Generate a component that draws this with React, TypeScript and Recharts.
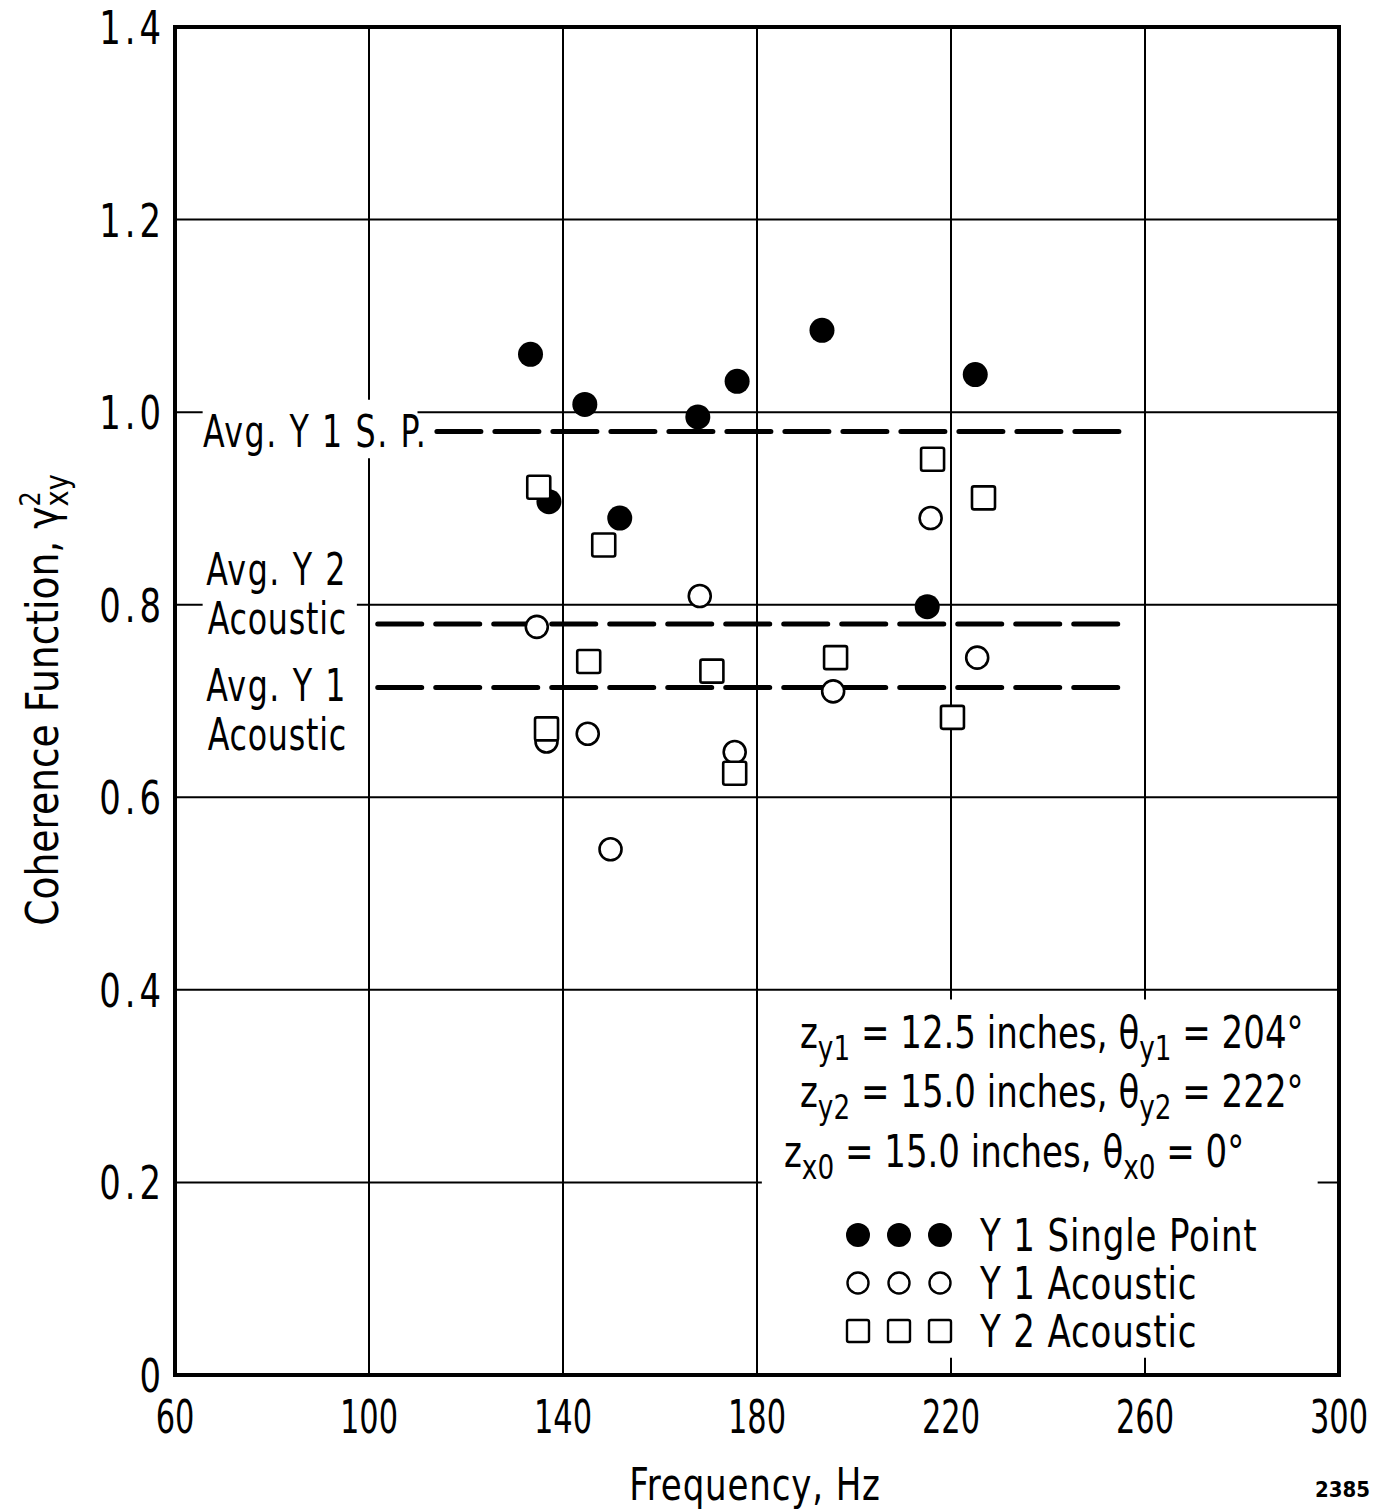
import React from 'react';
import { ScatterChart, Scatter, XAxis, YAxis, CartesianGrid, ReferenceArea } from 'recharts';

// Coherence function vs. frequency, three measurement sets plus their averages.

const freqTicks = [60, 100, 140, 180, 220, 260, 300];
const coherenceTicks = [0, 0.2, 0.4, 0.6, 0.8, 1.0, 1.2, 1.4];

const y1SinglePoint = [
  { x: 133.3, y: 1.060 },
  { x: 144.5, y: 1.008 },
  { x: 137.1, y: 0.907 },
  { x: 151.7, y: 0.890 },
  { x: 167.8, y: 0.995 },
  { x: 175.9, y: 1.032 },
  { x: 193.4, y: 1.085 },
  { x: 215.1, y: 0.798 },
  { x: 225.0, y: 1.039 },
];

const y1Acoustic = [
  { x: 134.6, y: 0.777 },
  { x: 136.6, y: 0.658 },
  { x: 145.1, y: 0.666 },
  { x: 149.8, y: 0.546 },
  { x: 168.2, y: 0.809 },
  { x: 175.4, y: 0.647 },
  { x: 195.7, y: 0.710 },
  { x: 215.8, y: 0.890 },
  { x: 225.4, y: 0.745 },
];

const y2Acoustic = [
  { x: 135.0, y: 0.922 },
  { x: 136.6, y: 0.671 },
  { x: 148.4, y: 0.862 },
  { x: 145.3, y: 0.741 },
  { x: 170.7, y: 0.731 },
  { x: 175.4, y: 0.625 },
  { x: 196.2, y: 0.745 },
  { x: 216.2, y: 0.951 },
  { x: 226.7, y: 0.911 },
  { x: 220.3, y: 0.683 },
];

// average levels, drawn from start to end frequency
const avgY1SinglePoint = [{ x: 114, y: 0.98 }, { x: 256, y: 0.98 }];
const avgY2Acoustic = [{ x: 101.8, y: 0.78 }, { x: 256, y: 0.78 }];
const avgY1Acoustic = [{ x: 101.8, y: 0.714 }, { x: 256, y: 0.714 }];

const legendRows = ['Y 1  Single Point', 'Y 1  Acoustic', 'Y 2  Acoustic'];

const FONT = "'DejaVu Sans Condensed', 'Liberation Sans Narrow', 'DejaVu Sans', sans-serif";

const FilledDot = ({ cx, cy }: any) => <circle cx={cx} cy={cy} r={12.5} fill="#000" />;
const OpenDot = ({ cx, cy }: any) => (
  <circle cx={cx} cy={cy} r={11} fill="#fff" stroke="#000" strokeWidth={2.6} />
);
const OpenSquare = ({ cx, cy }: any) => (
  <rect x={cx - 11.5} y={cy - 11.5} width={23} height={23} rx={2} fill="#fff" stroke="#000" strokeWidth={2.6} />
);
const NoDot = () => <g />;

const dashStyle = { stroke: '#000', strokeWidth: 5, strokeDasharray: '44 14', strokeLinecap: 'round' as const };

// condensed text: the scan uses a narrow typeface, squeeze DejaVu horizontally
const T = ({ x, y, sx = 0.8, size = 44, anchor = 'start', spacing = 0, weight, children }: any) => (
  <text
    transform={`translate(${x},${y}) scale(${sx},1)`}
    fontFamily={FONT}
    fontSize={size}
    textAnchor={anchor}
    letterSpacing={spacing}
    fontWeight={weight}
    fill="#000"
  >
    {children}
  </text>
);

const XTick = ({ x, y, payload }: any) => (
  <T x={x} y={y + 52} sx={0.72} size={47} anchor="middle">
    {payload.value}
  </T>
);

const YTick = ({ x, y, payload }: any) => (
  <T x={x} y={y + 17} sx={0.8} size={47} anchor="end" spacing={5}>
    {payload.value === 0 ? '0' : payload.value.toFixed(1)}
  </T>
);

const sub = (s: string, size = 34) => (
  <tspan fontSize={size} dy={12}>
    {s}
  </tspan>
);

export default function App() {
  return (
    <div style={{ position: 'absolute', left: 0, top: 0, width: 1390, height: 1511, background: '#fff' }}>
      <ScatterChart width={1390} height={1511} margin={{ top: 27, right: 51, bottom: 76, left: 0 }}>
        <CartesianGrid stroke="#000" strokeWidth={2} />
        <XAxis
          type="number"
          dataKey="x"
          domain={[60, 300]}
          ticks={freqTicks}
          height={60}
          axisLine={false}
          tickLine={false}
          tickMargin={0}
          tick={<XTick />}
        />
        <YAxis
          type="number"
          dataKey="y"
          domain={[0, 1.4]}
          ticks={coherenceTicks}
          width={175}
          axisLine={false}
          tickLine={false}
          tickMargin={4}
          tick={<YTick />}
        />
        {/* white patches behind annotations */}
        <ReferenceArea x1={181} x2={295.6} y1={0.018} y2={0.39} fill="#fff" fillOpacity={1} stroke="none" />
        <ReferenceArea x1={65.7} x2={110} y1={0.952} y2={1.013} fill="#fff" fillOpacity={1} stroke="none" />
        <ReferenceArea x1={65.7} x2={97.5} y1={0.76} y2={0.84} fill="#fff" fillOpacity={1} stroke="none" />
        <ReferenceArea x1={60} x2={300} y1={0} y2={1.4} fill="none" stroke="#000" strokeWidth={4} />

        <Scatter data={avgY1SinglePoint} line={dashStyle} shape={NoDot} isAnimationActive={false} />
        <Scatter data={avgY2Acoustic} line={dashStyle} shape={NoDot} isAnimationActive={false} />
        <Scatter data={avgY1Acoustic} line={dashStyle} shape={NoDot} isAnimationActive={false} />

        <Scatter name="Y1 Single Point" data={y1SinglePoint} shape={FilledDot} isAnimationActive={false} />
        <Scatter name="Y1 Acoustic" data={y1Acoustic} shape={OpenDot} isAnimationActive={false} />
        <Scatter name="Y2 Acoustic" data={y2Acoustic} shape={OpenSquare} isAnimationActive={false} />
      </ScatterChart>

      <svg width={1390} height={1511} style={{ position: 'absolute', left: 0, top: 0, pointerEvents: 'none' }}>
        <T x={203} y={447} spacing={2}>Avg. Y 1  S. P.</T>
        <T x={347} y={585} anchor="end" spacing={2}>Avg. Y 2</T>
        <T x={347} y={634} anchor="end" spacing={1}>Acoustic</T>
        <T x={347} y={701} anchor="end" spacing={2}>Avg. Y 1</T>
        <T x={347} y={750} anchor="end" spacing={1}>Acoustic</T>

        <T x={800} y={1048} sx={0.86} size={44}>
          z{sub('y1')}<tspan dy={-12}> = 12.5 inches, θ</tspan>{sub('y1')}<tspan dy={-12}> = 204°</tspan>
        </T>
        <T x={800} y={1107} sx={0.86} size={44}>
          z{sub('y2')}<tspan dy={-12}> = 15.0 inches, θ</tspan>{sub('y2')}<tspan dy={-12}> = 222°</tspan>
        </T>
        <T x={784} y={1167} sx={0.86} size={44}>
          z{sub('x0')}<tspan dy={-12}>  = 15.0 inches, θ</tspan>{sub('x0')}<tspan dy={-12}> =  0°</tspan>
        </T>

        {/* legend */}
        {legendRows.map((label, i) => {
          const cy = 1235 + i * 48;
          return (
            <g key={label}>
              {[858, 899, 940].map((cx) =>
                i === 0 ? (
                  <circle key={cx} cx={cx} cy={cy} r={12} fill="#000" />
                ) : i === 1 ? (
                  <circle key={cx} cx={cx} cy={cy} r={10.5} fill="#fff" stroke="#000" strokeWidth={2.4} />
                ) : (
                  <rect key={cx} x={cx - 11} y={cy - 11} width={22} height={22} rx={2} fill="#fff" stroke="#000" strokeWidth={2.4} />
                )
              )}
              <T x={980} y={cy + 16} sx={0.86} size={44} spacing={1}>
                {label}
              </T>
            </g>
          );
        })}

        <T x={755} y={1500} sx={0.86} size={44} anchor="middle" spacing={1}>Frequency,  Hz</T>
        <T x={1370} y={1497} sx={1} size={22} anchor="end" weight="bold">2385</T>

        <g transform="translate(58, 700) rotate(-90)">
          <T x={0} y={0} sx={0.95} size={44} anchor="middle">
            Coherence Function,  γ<tspan fontSize={28} dy={-18}>2</tspan>
            <tspan fontSize={32} dx={-16} dy={28}>xy</tspan>
          </T>
        </g>
      </svg>
    </div>
  );
}
